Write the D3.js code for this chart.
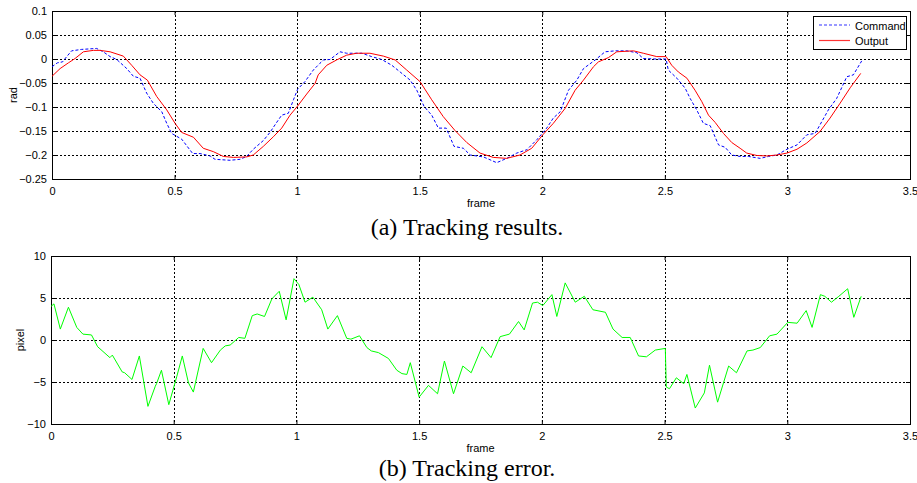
<!DOCTYPE html>
<html>
<head>
<meta charset="utf-8">
<script src="https://cdn.jsdelivr.net/npm/d3@7"></script>
<style>
  body { margin: 0; background: #fff; }
  svg { display: block; }
  .tick text { font-family: Arial, "Liberation Sans", sans-serif; font-size: 11px; fill: #000; }
</style>
</head>
<body>
<div id="chart"></div>
<script>
// top panel: command vs output (rad)
const cmdFrame = [0, 0.022, 0.043, 0.06, 0.08, 0.121, 0.182, 0.209, 0.237, 0.264, 0.305, 0.332, 0.359, 0.386, 0.413, 0.448, 0.468, 0.488, 0.529, 0.574, 0.604, 0.645, 0.665, 0.726, 0.767, 0.794, 0.821, 0.862, 0.889, 0.914, 0.937, 0.964, 0.985, 1.002, 1.032, 1.066, 1.093,
  1.107, 1.134, 1.175, 1.202, 1.264, 1.304, 1.345, 1.386, 1.42, 1.461, 1.488, 1.518, 1.549, 1.576, 1.608, 1.64, 1.678, 1.706, 1.76, 1.814, 1.855, 1.896, 1.937, 1.978, 2.018, 2.045, 2.073, 2.107, 2.141, 2.168, 2.216, 2.256,
  2.297, 2.345, 2.386, 2.412, 2.46, 2.505, 2.514, 2.549, 2.583, 2.603, 2.63, 2.657, 2.685, 2.719, 2.746, 2.773, 2.807, 2.841, 2.889, 2.923, 2.957, 2.998, 3.039, 3.079, 3.113, 3.133, 3.167, 3.201, 3.242, 3.269, 3.303];
const cmdValue = [-0.016, -0.008, -0.006, 0.005, 0.017, 0.02, 0.022, 0.015, 0.005, -0.001, -0.02, -0.036, -0.04, -0.071, -0.092, -0.11, -0.134, -0.155, -0.167, -0.197, -0.197, -0.202, -0.209, -0.211, -0.209, -0.203, -0.188, -0.17, -0.153, -0.134, -0.117, -0.113, -0.085, -0.063, -0.047, -0.023, -0.009,
  -0.002, -0.001, 0.015, 0.012, 0.012, 0.005, -0.001, -0.013, -0.027, -0.044, -0.065, -0.099, -0.117, -0.144, -0.144, -0.182, -0.186, -0.2, -0.204, -0.216, -0.207, -0.196, -0.189, -0.168, -0.144, -0.123, -0.11, -0.065, -0.044, -0.02, -0.002, 0.015,
  0.017, 0.017, 0.013, 0.001, 0, 0, -0.023, -0.04, -0.061, -0.082, -0.106, -0.134, -0.139, -0.179, -0.184, -0.2, -0.203, -0.203, -0.207, -0.203, -0.2, -0.188, -0.179, -0.158, -0.155, -0.137, -0.106, -0.082, -0.037, -0.033, -0.004];

const outFrame = [0, 0.033, 0.067, 0.094, 0.128, 0.169, 0.196, 0.237, 0.291, 0.325, 0.359, 0.389, 0.427, 0.468, 0.502, 0.529, 0.577, 0.617, 0.658, 0.699, 0.74, 0.794, 0.821, 0.862, 0.903, 0.937, 0.971, 1.002, 1.039, 1.073,
  1.086, 1.121, 1.161, 1.202, 1.243, 1.297, 1.352, 1.4, 1.447, 1.501, 1.549, 1.596, 1.644, 1.692, 1.746, 1.8, 1.855, 1.909, 1.957, 2.002, 2.045, 2.093, 2.134, 2.168, 2.209, 2.229, 2.27,
  2.304, 2.372, 2.412, 2.467, 2.505, 2.528, 2.555, 2.59, 2.623, 2.651, 2.678, 2.705, 2.739, 2.773, 2.807, 2.834, 2.875, 2.916, 2.957, 2.998, 3.039, 3.079, 3.133, 3.174, 3.215, 3.256, 3.299];
const outValue = [-0.036, -0.02, -0.008, 0.001, 0.015, 0.018, 0.018, 0.015, 0.006, -0.013, -0.033, -0.044, -0.078, -0.106, -0.134, -0.153, -0.163, -0.186, -0.193, -0.203, -0.205, -0.204, -0.2, -0.182, -0.162, -0.144, -0.117, -0.098, -0.073, -0.051,
  -0.033, -0.013, -0.002, 0.008, 0.012, 0.012, 0.006, -0.002, -0.023, -0.047, -0.085, -0.12, -0.149, -0.174, -0.196, -0.205, -0.207, -0.2, -0.186, -0.158, -0.134, -0.103, -0.065, -0.044, -0.016, -0.006, 0.003,
  0.015, 0.017, 0.012, 0.005, 0.005, -0.013, -0.027, -0.04, -0.065, -0.089, -0.117, -0.132, -0.155, -0.174, -0.186, -0.196, -0.201, -0.202, -0.2, -0.196, -0.188, -0.175, -0.151, -0.123, -0.092, -0.06, -0.03];

// bottom panel: tracking error (pixel)
const errFrame = [0, 0.012, 0.038, 0.071, 0.105, 0.13, 0.165, 0.19, 0.24, 0.25, 0.29, 0.3, 0.33, 0.36, 0.395, 0.425, 0.43, 0.45, 0.48, 0.513, 0.535, 0.56, 0.58, 0.62, 0.654, 0.69, 0.71, 0.73, 0.765, 0.79, 0.82, 0.84, 0.87, 0.9, 0.93, 0.958, 0.99, 1.01, 1.035, 1.067,
  1.103, 1.128, 1.167, 1.205, 1.222, 1.257, 1.287, 1.305, 1.334, 1.375, 1.409, 1.43, 1.45, 1.464, 1.5, 1.538, 1.575, 1.603, 1.64, 1.678, 1.712, 1.756, 1.793, 1.83, 1.868, 1.905, 1.928, 1.962, 1.982, 2.004, 2.041, 2.061, 2.095, 2.136, 2.173, 2.208,
  2.259, 2.29, 2.327, 2.36, 2.394, 2.426, 2.462, 2.503, 2.507, 2.52, 2.548, 2.578, 2.591, 2.625, 2.662, 2.683, 2.716, 2.761, 2.793, 2.836, 2.86, 2.89, 2.928, 2.958, 3.002, 3.04, 3.077, 3.101, 3.135, 3.153, 3.18, 3.21, 3.246, 3.271, 3.301];
const errValue = [4.0, 4.3, 1.3, 3.9, 1.5, 0.7, 0.6, -0.8, -2.1, -1.8, -3.8, -3.9, -4.7, -1.9, -7.9, -5.5, -5.2, -3.6, -7.7, -4.3, -1.9, -5.1, -6.2, -1.0, -2.7, -1.2, -0.7, -0.6, 0.3, 0.2, 2.9, 3.1, 2.8, 4.9, 5.8, 2.4, 7.3, 6.6, 4.5, 5.1,
  3.6, 1.3, 2.9, 0.2, 0.1, 0.5, -0.9, -1.3, -1.5, -2.2, -3.6, -4.0, -4.1, -2.7, -6.8, -5.4, -6.4, -2.5, -6.4, -3.1, -3.9, -0.8, -2.1, 0.4, 0.7, 2.2, 1.2, 4.4, 4.5, 4.1, 5.4, 2.8, 6.8, 4.5, 5.2, 3.6,
  3.3, 1.3, 0.3, 0.3, -1.9, -2.0, -1.2, -1.0, -5.6, -5.8, -4.5, -5.2, -4.1, -8.1, -6.3, -3.0, -7.4, -3.1, -3.9, -1.3, -1.2, -0.9, 0.5, 0.7, 2.1, 2.0, 3.5, 1.5, 5.4, 5.2, 4.5, 5.2, 6.1, 2.7, 5.2];

const xTicks = [0, 0.5, 1, 1.5, 2, 2.5, 3, 3.5];
const radTicks = [0.1, 0.05, 0, -0.05, -0.1, -0.15, -0.2, -0.25];
const pixelTicks = [10, 5, 0, -5, -10];
const seriesNames = ["Command", "Output"];

const W = 917, H = 483;
const svg = d3.select("#chart").append("svg").attr("width", W).attr("height", H);

function panel(opts) {
  const {left, right, top, bottom, yDomain, yTicks, yLabel, yLabelX, fmtY} = opts;
  const x = d3.scaleLinear().domain([0, 3.5]).range([left, right]);
  const y = d3.scaleLinear().domain(yDomain).range([bottom, top]);
  const g = svg.append("g");

  // dotted grid
  g.append("g").selectAll("line.v").data(xTicks.slice(1, -1)).join("line")
    .attr("x1", d => Math.round(x(d)) + 0.5).attr("x2", d => Math.round(x(d)) + 0.5)
    .attr("y1", top).attr("y2", bottom)
    .attr("stroke", "#000").attr("stroke-width", 1).attr("stroke-dasharray", "2,2");
  g.append("g").selectAll("line.h").data(yTicks.slice(1, -1)).join("line")
    .attr("x1", left).attr("x2", right)
    .attr("y1", d => Math.round(y(d)) + 0.5).attr("y2", d => Math.round(y(d)) + 0.5)
    .attr("stroke", "#000").attr("stroke-width", 1).attr("stroke-dasharray", "2,2");

  // axes (ticks inside, matlab style)
  g.append("g").attr("transform", `translate(0,${bottom})`)
    .call(d3.axisBottom(x).tickValues(xTicks).tickSize(-4).tickPadding(8).tickFormat(d3.format("")))
    .call(a => a.select(".domain").remove());
  g.append("g").attr("transform", `translate(${left},0)`)
    .call(d3.axisLeft(y).tickValues(yTicks).tickSize(-4).tickPadding(5).tickFormat(fmtY))
    .call(a => a.select(".domain").remove());
  g.append("g").attr("transform", `translate(0,${top})`)
    .call(d3.axisTop(x).tickValues(xTicks).tickSize(-4).tickFormat(""))
    .call(a => a.select(".domain").remove());
  g.append("g").attr("transform", `translate(${right},0)`)
    .call(d3.axisRight(y).tickValues(yTicks).tickSize(-4).tickFormat(""))
    .call(a => a.select(".domain").remove());

  g.append("rect").attr("x", left + 0.5).attr("y", top + 0.5)
    .attr("width", right - left).attr("height", bottom - top)
    .attr("fill", "none").attr("stroke", "#000");

  g.append("text").attr("x", (left + right) / 2).attr("y", bottom + 28)
    .attr("text-anchor", "middle").attr("font-family", "Arial, 'Liberation Sans', sans-serif")
    .attr("font-size", 11).text("frame");
  g.append("text").attr("transform", `translate(${yLabelX},${(top + bottom) / 2}) rotate(-90)`)
    .attr("text-anchor", "middle").attr("font-family", "Arial, 'Liberation Sans', sans-serif")
    .attr("font-size", 11).text(yLabel);
  return {x, y, g};
}

// (a)
const A = panel({left: 52, right: 910, top: 11, bottom: 179, yDomain: [-0.25, 0.1], yTicks: radTicks,
  yLabel: "rad", yLabelX: 17, fmtY: d => d3.format("")(+d.toFixed(2))});
const lineA = d3.line().x(d => A.x(d[0])).y(d => A.y(d[1]));
A.g.append("path").datum(d3.zip(cmdFrame, cmdValue)).attr("d", lineA)
  .attr("fill", "none").attr("stroke", "#0000ff").attr("stroke-width", 1).attr("stroke-dasharray", "3,2");
A.g.append("path").datum(d3.zip(outFrame, outValue)).attr("d", lineA)
  .attr("fill", "none").attr("stroke", "#ff0000").attr("stroke-width", 1);

// legend
const lg = svg.append("g").attr("transform", "translate(813,16)");
lg.append("rect").attr("x", 0.5).attr("y", 0.5).attr("width", 93).attr("height", 33)
  .attr("fill", "#fff").attr("stroke", "#000");
const legendColor = ["#3333ff", "#ff3333"];
lg.selectAll("line.key").data(seriesNames).join("line")
  .attr("x1", 6).attr("x2", 37)
  .attr("y1", (d, i) => 9 + i * 15.5).attr("y2", (d, i) => 9 + i * 15.5)
  .attr("stroke", (d, i) => legendColor[i]).attr("stroke-width", 1.2)
  .attr("stroke-dasharray", (d, i) => i === 0 ? "3,2" : "none");
lg.selectAll("text.key").data(seriesNames).join("text")
  .attr("x", 42).attr("y", (d, i) => 13.5 + i * 15.5)
  .attr("font-family", "Arial, 'Liberation Sans', sans-serif").attr("font-size", 11).text(d => d);

svg.append("text").attr("x", 467).attr("y", 235).attr("text-anchor", "middle")
  .attr("font-family", "'Times New Roman', 'Liberation Serif', serif").attr("font-size", 24)
  .text("(a) Tracking results.");

// (b)
const B = panel({left: 51, right: 910, top: 256, bottom: 424, yDomain: [-10, 10], yTicks: pixelTicks,
  yLabel: "pixel", yLabelX: 24, fmtY: d3.format("")});
const lineB = d3.line().x(d => B.x(d[0])).y(d => B.y(d[1]));
B.g.append("path").datum(d3.zip(errFrame, errValue)).attr("d", lineB)
  .attr("fill", "none").attr("stroke", "#00ff00").attr("stroke-width", 1);

svg.append("text").attr("x", 467).attr("y", 476).attr("text-anchor", "middle")
  .attr("font-family", "'Times New Roman', 'Liberation Serif', serif").attr("font-size", 24)
  .text("(b) Tracking error.");
</script>
</body>
</html>
